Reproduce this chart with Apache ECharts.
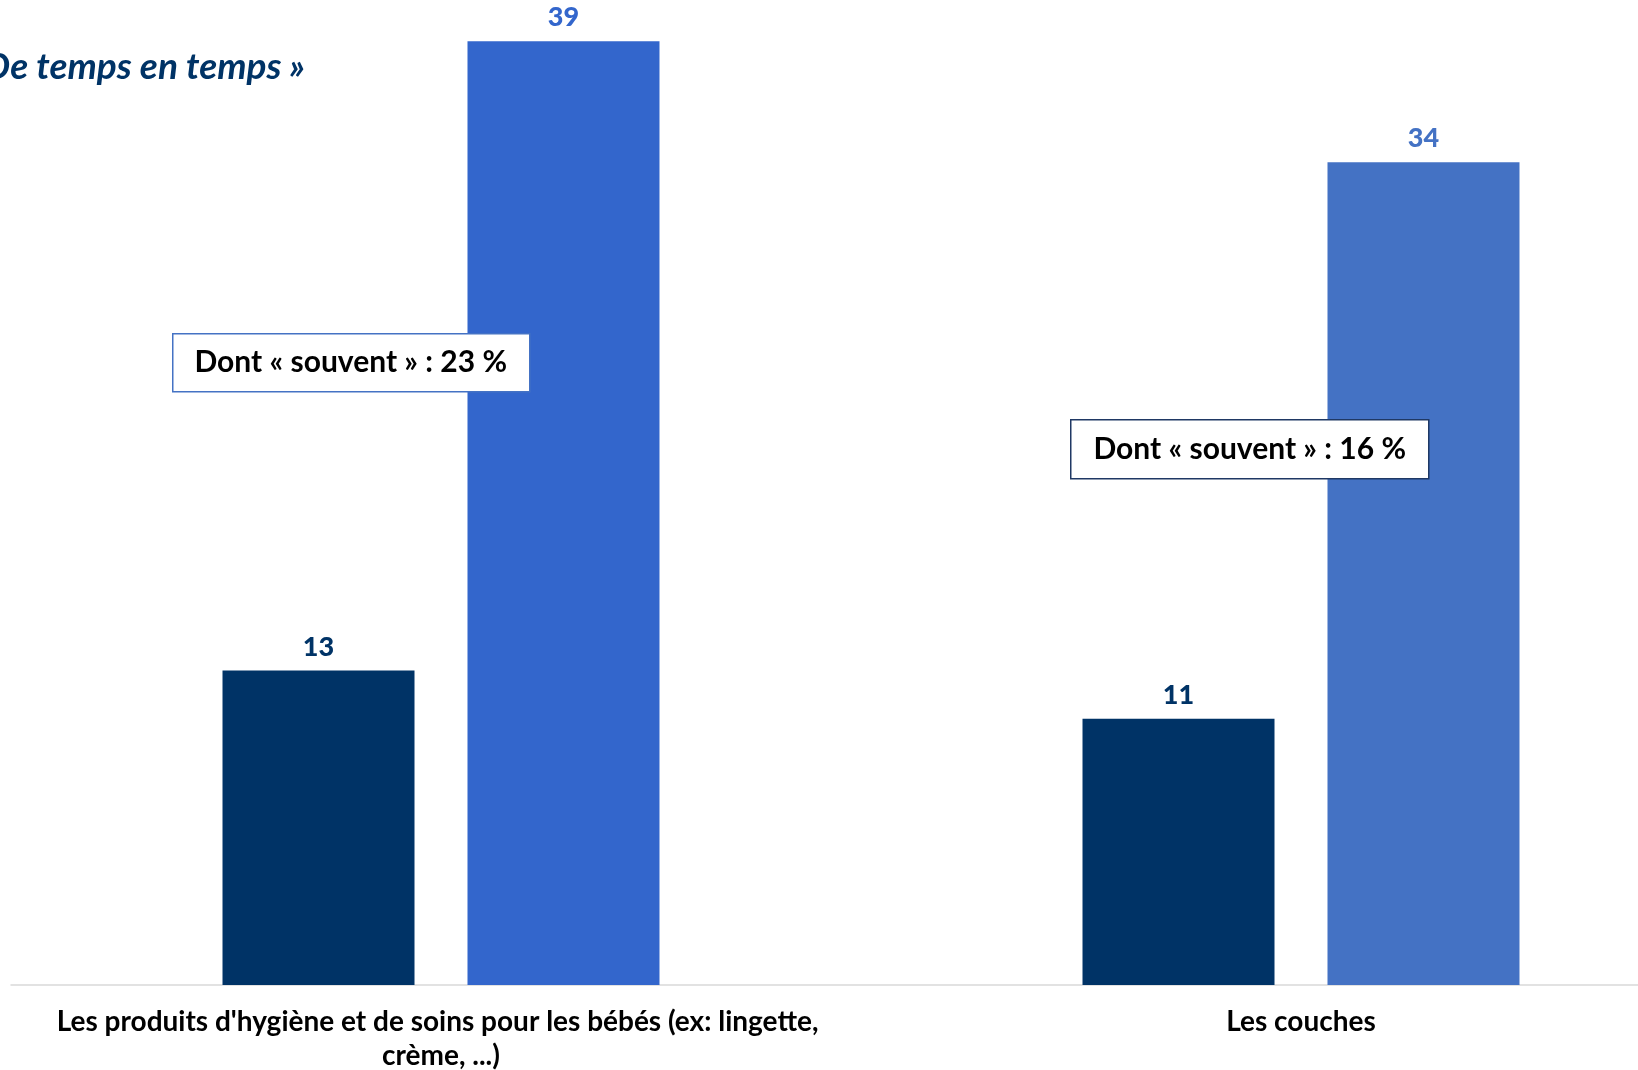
<!DOCTYPE html>
<html><head><meta charset="utf-8">
<script src="https://cdn.jsdelivr.net/npm/echarts@6/dist/echarts.min.js"></script>
<style>html,body{margin:0;padding:0;background:#fff}#c{width:1638px;height:1070px}</style>
</head><body><div id="c"></div>
<script>
const categories = ["Les produits d'hygiène et de soins pour les bébés (ex: lingette, crème, ...)", "Les couches"];
const seriesNames = ["Souvent", "« De temps en temps »"];
const darkValues = [13, 11];
const lightValues = [39, 34];
const lightColors = ["#3366CC", "#4472C4"];
const notes = ["Dont « souvent » : 23 %", "Dont « souvent » : 16 %"];
const titleText = "« De temps en temps »";

const chart = echarts.init(document.getElementById('c'));
const FONT = 'Lato';
chart.setOption({
  animation: false,
  backgroundColor: '#fff',
  grid: { left: 11, top: 17, width: 1720, bottom: 85, containLabel: false, outerBoundsMode: 'none' },
  xAxis: {
    type: 'category', data: categories,
    axisLine: { lineStyle: { color: '#D9D9D9', width: 1.5 } },
    axisTick: { show: false },
    axisLabel: { interval: 0, color: '#000', fontFamily: FONT, fontWeight: 'bold', fontSize: 28,
      lineHeight: 34, margin: 20, width: 820, overflow: 'break' }
  },
  yAxis: { type: 'value', min: 0, max: 40, show: false, splitLine: { show: false } },
  series: [
    { name: seriesNames[0], type: 'bar', barWidth: 192, barGap: '27.6%',
      itemStyle: { color: '#003366' },
      label: { show: true, position: 'top', distance: 10, color: '#003366', fontFamily: FONT, fontWeight: 900, fontSize: 27 },
      data: darkValues },
    { name: seriesNames[1], type: 'bar', barWidth: 192,
      label: { show: true, position: 'top', distance: 10, fontFamily: FONT, fontWeight: 900, fontSize: 27 },
      data: lightValues.map((v, i) => ({ value: v, itemStyle: { color: lightColors[i] }, label: { color: lightColors[i] } })) }
  ],
  graphic: [
    { type: 'text', z: 100, x: 305, y: 67, style: { text: titleText, fill: '#003366', font: 'italic bold 37px Lato', textAlign: 'right', textVerticalAlign: 'middle' } },
    { type: 'group', z: 100, left: 172, top: 333, children: [
      { type: 'rect', z: 100, shape: { x: 0, y: 0, width: 357, height: 58 }, style: { fill: '#fff', stroke: '#4472C4', lineWidth: 1.5 } },
      { type: 'text', z: 101, x: 178, y: 29, style: { text: notes[0], fill: '#000', font: 'bold 30px Lato', textAlign: 'center', textVerticalAlign: 'middle' } }
    ]},
    { type: 'group', z: 100, left: 1070, top: 419, children: [
      { type: 'rect', z: 100, shape: { x: 0, y: 0, width: 358, height: 59 }, style: { fill: '#fff', stroke: '#1F3864', lineWidth: 1.5 } },
      { type: 'text', z: 101, x: 179, y: 30, style: { text: notes[1], fill: '#000', font: 'bold 30px Lato', textAlign: 'center', textVerticalAlign: 'middle' } }
    ]}
  ]
});
</script></body></html>
